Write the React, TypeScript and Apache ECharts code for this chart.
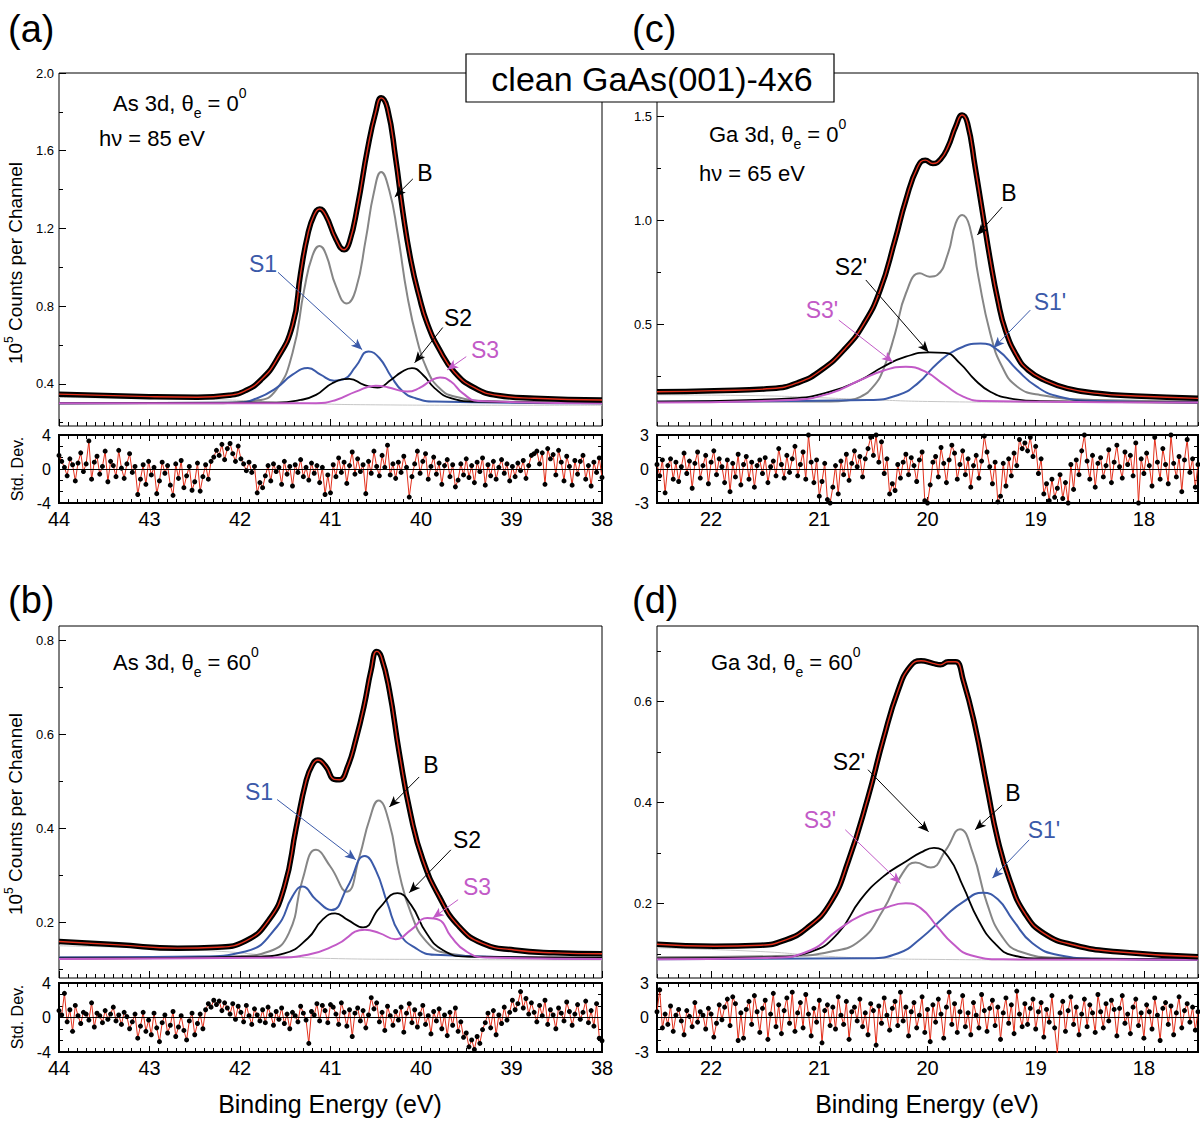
import React, { useEffect, useRef } from "react";
import * as echarts from "echarts";

const FONT = '"Liberation Sans", Arial, Helvetica, sans-serif';

// colours
const C_DATA = "#000000";
const C_FIT = "#e3301c";
const C_B = "#868686";
const C_S1 = "#3b5aa9";
const C_S2 = "#000000";
const C_S3 = "#c25ac7";
const C_BG = "#c6c6c6";

// ---------- tick labels ----------
const asXTicks = [38, 39, 40, 41, 42, 43, 44];
const gaXTicks = [18, 19, 20, 21, 22];
const aYTicks = [0.4, 0.8, 1.2, 1.6, 2.0];
const aYMinor = [0.2, 0.6, 1.0, 1.4, 1.8];
const bYTicks = [0.2, 0.4, 0.6, 0.8];
const bYMinor = [0.1, 0.3, 0.5, 0.7];
const cYTicks = [0.5, 1.0, 1.5];
const cYMinor = [0.25, 0.75, 1.25];
const dYTicks = [0.2, 0.4, 0.6];
const dYMinor = [0.1, 0.3, 0.5, 0.7];
const asResTicks = [-4, 0, 4];
const asResMinor = [-2.67, -1.33, 1.33, 2.67];
const gaResTicks = [-3, 0, 3];
const gaResMinor = [-2, -1, 1, 2];

// ---------- Panel (a): As 3d, theta 0, hv 85 eV ----------
const aTotalE = [44.0, 43.0, 42.47, 42.12, 41.94, 41.77, 41.60, 41.42, 41.33, 41.25, 41.18, 41.12, 41.05, 40.94, 40.85, 40.79, 40.70, 40.59, 40.50, 40.44, 40.37, 40.28, 40.20, 40.11, 40.02, 39.93, 39.80, 39.63, 39.41, 39.15, 38.75, 38.0];
const aTotalV = [0.347, 0.334, 0.331, 0.341, 0.365, 0.42, 0.52, 0.70, 0.97, 1.17, 1.27, 1.30, 1.265, 1.145, 1.09, 1.13, 1.317, 1.61, 1.80, 1.872, 1.817, 1.56, 1.283, 1.03, 0.85, 0.71, 0.58, 0.46, 0.38, 0.34, 0.326, 0.317];
const aBE = [44.0, 42.47, 41.81, 41.60, 41.42, 41.29, 41.20, 41.12, 41.05, 40.94, 40.82, 40.72, 40.61, 40.52, 40.44, 40.35, 40.26, 40.15, 40.04, 39.93, 39.80, 39.63, 39.19, 38.0];
const aBV = [0.30, 0.30, 0.315, 0.369, 0.559, 0.886, 1.059, 1.11, 1.067, 0.903, 0.814, 0.886, 1.145, 1.386, 1.49, 1.395, 1.179, 0.85, 0.62, 0.47, 0.38, 0.335, 0.31, 0.30];
const aS1E = [44.0, 42.03, 41.81, 41.60, 41.42, 41.25, 41.11, 40.96, 40.85, 40.72, 40.58, 40.46, 40.33, 40.20, 40.06, 39.85, 38.0];
const aS1V = [0.30, 0.303, 0.326, 0.378, 0.447, 0.481, 0.447, 0.416, 0.424, 0.49, 0.567, 0.533, 0.438, 0.36, 0.326, 0.309, 0.30];
const aS2E = [44.0, 41.60, 41.33, 41.16, 40.98, 40.79, 40.63, 40.48, 40.33, 40.22, 40.10, 39.98, 39.85, 39.67, 39.41, 38.0];
const aS2V = [0.30, 0.303, 0.317, 0.343, 0.403, 0.426, 0.395, 0.381, 0.421, 0.459, 0.481, 0.447, 0.378, 0.326, 0.309, 0.303];
const aS3E = [44.0, 41.16, 40.94, 40.72, 40.50, 40.37, 40.15, 40.02, 39.89, 39.79, 39.67, 39.54, 39.37, 38.0];
const aS3V = [0.30, 0.30, 0.317, 0.36, 0.39, 0.383, 0.36, 0.378, 0.416, 0.433, 0.412, 0.352, 0.312, 0.30];
const aBgE = [44.0, 43.0, 42.2, 41.8, 41.2, 40.5, 39.5, 38.0];
const aBgV = [0.33, 0.325, 0.318, 0.31, 0.298, 0.292, 0.29, 0.29];
const aRes = [
  1.6, 0.9, 0.2, -0.8, 1.2, 0.5, -1.4, 0.7, 1.9, -0.3, 0.6, 3.3, -1.2, 0.8, 1.5, -0.6, 0.3, 2.1, -1.5, 0.9, 0.4, -0.9, 2.2, 0.1, -1.1,
  0.6, 1.8, -0.4, 0.3, -3.0, -1.2, 0.5, -1.8, 0.9, -0.7, 0.2, -2.9, -1.4, 0.8, -0.5, 0.4, -1.9, -3.1, 0.6, -1.1, 1.0, -2.2, -0.8, 0.3, -2.5,
  -1.5, 0.7, -2.6, -0.9, 0.5, -1.2, 0.9, 1.4, 2.2, 1.6, 2.9, 1.1, 2.4, 3.0, 1.8, 0.9, 2.7, 1.2, 0.6, -0.2, 0.8, -0.4, 0.3, -2.8, -1.6,
  -2.2, -0.8, 0.4, -1.4, 0.6, -0.3, 0.2, -1.8, 0.9, -0.6, 0.3, -2.0, 0.5, -0.4, 1.1, -0.9, 0.2, -1.3, 0.7, -0.5, 0.4, -1.6, 0.2, -3.0, -0.7,
  -2.8, 0.5, -0.9, 1.3, -0.4, 0.8, -1.7, 0.4, 2.0, -0.6, 1.2, -0.3, 0.5, -2.9, 0.9, -0.5, 2.1, 0.3, -0.8, 1.6, 0.2, 2.8, -0.7, 0.6, -1.1,
  0.8, -0.4, 1.5, 0.2, -3.3, -0.9, 0.6, 2.1, -0.5, 0.9, 1.8, -1.2, 0.3, 1.4, -0.6, 0.7, -1.8, 0.4, 1.1, -0.9, 0.5, -2.1, -1.3, 0.6, -0.7,
  1.2, -1.0, 0.4, -1.6, 0.8, -0.3, 1.3, -1.9, 0.5, -0.8, 0.9, -1.2, 0.2, 1.1, -0.5, 0.6, -1.4, 0.3, -0.9, 0.7, -0.2, 1.0, -1.1, 0.4, 1.6,
  1.8, 2.1, 0.6, 1.9, -1.8, 2.4, 1.2, 1.7, -0.7, 2.2, 0.8, -1.4, 1.5, 0.3, -1.9, 1.0, -0.6, 0.9, 1.6, -1.2, 0.4, -2.0, 0.8, -0.4, 1.3,
  -1.0,
];

// ---------- Panel (b): As 3d, theta 60 ----------
const bTotalE = [44.0, 43.34, 42.69, 42.25, 41.94, 41.68, 41.51, 41.38, 41.27, 41.20, 41.14, 41.05, 40.96, 40.90, 40.81, 40.72, 40.63, 40.55, 40.49, 40.44, 40.35, 40.24, 40.11, 39.98, 39.80, 39.58, 39.32, 38.97, 38.53, 38.0];
const bTotalV = [0.159, 0.152, 0.145, 0.147, 0.16, 0.205, 0.275, 0.40, 0.50, 0.535, 0.545, 0.531, 0.504, 0.503, 0.531, 0.588, 0.659, 0.737, 0.776, 0.765, 0.694, 0.56, 0.425, 0.333, 0.255, 0.191, 0.155, 0.141, 0.135, 0.133];
const bBE = [44.0, 42.69, 42.03, 41.68, 41.46, 41.31, 41.16, 41.00, 40.82, 40.68, 40.57, 40.47, 40.35, 40.24, 40.11, 39.94, 39.71, 39.19, 38.0];
const bBV = [0.125, 0.126, 0.128, 0.138, 0.177, 0.29, 0.354, 0.318, 0.265, 0.34, 0.418, 0.459, 0.411, 0.304, 0.219, 0.159, 0.134, 0.126, 0.123];
const bS1E = [44.0, 42.47, 41.94, 41.59, 41.42, 41.31, 41.16, 40.99, 40.81, 40.62, 40.50, 40.37, 40.24, 40.06, 39.85, 38.0];
const bS1V = [0.125, 0.127, 0.138, 0.191, 0.255, 0.276, 0.248, 0.226, 0.276, 0.341, 0.311, 0.24, 0.177, 0.145, 0.131, 0.123];
const bS2E = [44.0, 41.81, 41.51, 41.25, 41.09, 40.95, 40.81, 40.64, 40.46, 40.26, 40.11, 39.94, 39.76, 39.50, 38.0];
const bS2V = [0.123, 0.127, 0.134, 0.166, 0.205, 0.219, 0.205, 0.189, 0.23, 0.262, 0.237, 0.177, 0.141, 0.127, 0.125];
const bS3E = [44.0, 41.59, 41.25, 40.94, 40.62, 40.46, 40.28, 40.11, 39.93, 39.80, 39.67, 39.50, 39.28, 38.0];
const bS3V = [0.122, 0.125, 0.131, 0.152, 0.184, 0.177, 0.164, 0.184, 0.209, 0.205, 0.17, 0.138, 0.125, 0.122];
const bBgE = [44.0, 43.0, 42.2, 41.7, 41.0, 40.0, 38.0];
const bBgV = [0.15, 0.145, 0.138, 0.13, 0.123, 0.121, 0.12];
const bRes = [
  0.8, 0.3, 2.8, -0.5, 0.9, -1.6, 1.4, 0.2, -0.7, 0.6, 0.4, -0.3, 1.7, -1.1, 0.5, 0.2, -0.6, 0.8, -0.2, 0.4, 1.2, -0.4, 0.3, -0.8, 0.6,
  0.1, -1.3, -0.5, 0.4, -2.4, -1.0, 0.6, -1.6, -0.3, -2.0, 0.5, -1.2, -2.8, -0.6, 0.3, -1.8, -0.9, 0.7, -2.2, -1.1, 0.2, -1.5, -2.6, -0.4, 0.5,
  -2.0, -0.7, 0.4, -1.3, 0.9, 1.6, 1.2, 2.0, 1.5, 1.9, 0.8, 1.7, 1.1, 0.4, 1.6, -0.2, 1.3, 0.6, -0.5, 1.4, 0.2, -0.8, 1.0, 0.3, -0.4,
  0.9, -0.6, 1.2, 0.3, -0.9, 0.7, -0.2, 1.1, -0.7, 0.4, -1.3, 0.6, 0.2, -0.5, 1.3, 0.5, -0.3, -3.0, 0.7, 0.3, 1.6, -0.4, 1.4, 0.8, -0.6,
  1.5, 1.2, 0.4, -0.8, 1.7, 0.6, -1.0, 0.9, -2.2, 0.5, 1.1, -0.4, 0.8, -1.2, 0.3, 2.3, 1.0, 1.7, -0.5, 0.6, -1.5, 1.3, 0.2, -0.9, 0.7,
  -0.3, 1.2, -1.7, 0.5, 1.6, -0.6, 0.9, -1.1, 0.4, 1.4, -0.8, 0.2, -1.9, 0.7, -0.4, 1.0, -1.3, 0.3, -2.1, 0.6, -0.9, 1.1, -1.6, -0.5, -2.3,
  -1.8, -3.4, -2.6, -3.7, -2.2, -3.0, -1.4, -0.6, 0.5, -1.2, 0.8, -2.0, 0.3, -0.7, 1.2, -0.3, 0.6, 2.0, 0.9, 1.6, 3.0, 1.1, 2.2, 0.4, 1.7,
  0.6, -0.5, 1.4, 0.2, 2.0, -0.8, 0.9, 0.3, -1.3, 1.1, 0.5, -0.4, 1.8, 0.7, -0.9, 0.4, 1.5, -0.2, 0.6, 1.9, -0.6, 0.8, -1.0, 1.6, -2.4,
  -2.7,
];

// ---------- Panel (c): Ga 3d, theta 0, hv 65 eV ----------
const cTotalE = [22.5, 21.97, 21.44, 21.19, 20.98, 20.76, 20.59, 20.44, 20.30, 20.20, 20.09, 20.02, 19.95, 19.88, 19.81, 19.74, 19.68, 19.63, 19.56, 19.49, 19.42, 19.35, 19.28, 19.17, 19.07, 18.92, 18.71, 18.43, 18.08, 17.5];
const cTotalV = [0.175, 0.18, 0.19, 0.22, 0.279, 0.383, 0.50, 0.66, 0.904, 1.096, 1.256, 1.288, 1.272, 1.292, 1.353, 1.449, 1.505, 1.465, 1.256, 1.032, 0.808, 0.615, 0.471, 0.343, 0.279, 0.231, 0.191, 0.167, 0.154, 0.143];
const cBE = [22.5, 20.90, 20.75, 20.62, 20.50, 20.41, 20.30, 20.20, 20.07, 19.98, 19.91, 19.81, 19.74, 19.68, 19.61, 19.53, 19.42, 19.31, 19.17, 18.96, 18.43, 17.5];
const cBV = [0.127, 0.128, 0.133, 0.15, 0.2, 0.279, 0.455, 0.647, 0.744, 0.728, 0.736, 0.84, 0.984, 1.024, 0.968, 0.728, 0.455, 0.295, 0.199, 0.159, 0.135, 0.128];
const cS1E = [22.5, 20.55, 20.27, 20.09, 19.91, 19.74, 19.51, 19.35, 19.17, 18.99, 18.78, 18.43, 17.5];
const cS1V = [0.127, 0.135, 0.159, 0.215, 0.311, 0.375, 0.407, 0.375, 0.279, 0.199, 0.151, 0.13, 0.123];
const cS2E = [22.5, 21.26, 20.90, 20.62, 20.41, 20.20, 19.98, 19.84, 19.70, 19.56, 19.42, 19.24, 18.96, 17.5];
const cS2V = [0.127, 0.143, 0.175, 0.231, 0.295, 0.343, 0.364, 0.362, 0.311, 0.231, 0.175, 0.143, 0.13, 0.123];
const cS3E = [22.5, 21.26, 20.90, 20.62, 20.41, 20.20, 20.02, 19.84, 19.67, 19.49, 17.5];
const cS3V = [0.123, 0.135, 0.167, 0.231, 0.276, 0.295, 0.271, 0.207, 0.151, 0.13, 0.123];
const cBgE = [22.5, 21.5, 21.0, 20.5, 20.0, 19.0, 17.5];
const cBgV = [0.16, 0.155, 0.146, 0.136, 0.128, 0.124, 0.122];
const cRes = [
  0.4, -0.6, 0.8, -2.1, 0.3, 0.9, -0.9, 0.6, -1.1, 0.2, 1.4, -0.4, 0.7, -1.7, 0.5, 1.5, -0.8, 0.3, 1.2, -1.3, 0.6, 1.6, -0.5, 0.9, 0.2,
  -1.2, 0.8, -2.0, 0.5, -0.7, 1.3, -1.4, 0.4, 1.1, -0.9, 0.6, -1.6, 0.3, 0.8, -0.4, 1.0, -1.2, 0.2, 0.7, -0.6, 1.8, 0.4, -0.8, 1.2, -0.3,
  0.9, 2.0, -0.6, 0.4, 1.5, -0.9, 3.0, 0.6, -1.2, 0.8, -2.4, -1.1, 0.5, -2.7, -3.0, -1.6, 0.3, -2.2, 0.7, -0.5, 1.3, -1.0, 0.5, 1.6, 0.2,
  1.1, -0.7, 0.9, 1.8, 2.8, 1.2, 3.0, 0.6, 2.4, -0.4, 0.9, -2.2, -1.3, -1.9, 0.4, -0.8, 0.6, 1.3, -0.5, 1.0, 0.3, -1.1, 0.8, 1.5, -2.8,
  -3.0, -1.4, 0.6, 1.1, -0.7, 1.9, 0.5, -1.2, 0.8, 2.1, 1.4, -0.9, 0.4, 1.6, -0.5, 0.9, -1.6, 0.3, 1.2, -0.8, 0.7, 2.9, 1.5, 0.2, -1.3,
  0.6, -2.9, -2.4, 0.5, -1.5, 0.9, -0.6, 1.4, 0.3, 2.6, 1.8, 2.3, 1.6, 2.8, 1.1, 2.0, -0.4, 0.9, -2.2, -1.3, -2.8, -0.9, -2.5, -1.7, -0.5,
  -2.6, -1.2, -3.0, 0.4, -1.8, 0.8, -0.5, 1.6, 3.0, 0.7, -0.9, 1.2, -1.6, 0.5, 1.0, -0.7, 0.3, 1.7, -1.2, 0.6, 2.1, 0.2, -0.8, 1.5, 0.4,
  1.2, -0.6, 2.3, -3.0, 0.9, -0.4, 1.4, 0.3, -1.5, 2.8, 0.6, -0.9, 1.8, 0.4, -1.3, 3.0, 0.5, -0.7, 1.1, -2.0, 0.8, 2.6, -0.3, 0.9, -1.6,
  0.4,
];

// ---------- Panel (d): Ga 3d, theta 60 ----------
const dTotalE = [22.5, 21.97, 21.54, 21.33, 21.12, 20.90, 20.73, 20.55, 20.41, 20.27, 20.16, 20.06, 19.95, 19.88, 19.81, 19.74, 19.67, 19.56, 19.45, 19.35, 19.24, 19.10, 18.92, 18.64, 18.25, 17.5];
const dTotalV = [0.119, 0.115, 0.117, 0.126, 0.15, 0.2, 0.285, 0.41, 0.524, 0.623, 0.67, 0.681, 0.676, 0.673, 0.679, 0.679, 0.643, 0.551, 0.431, 0.326, 0.246, 0.18, 0.14, 0.117, 0.104, 0.094];
const dBE = [22.5, 21.26, 20.90, 20.62, 20.41, 20.23, 20.11, 19.97, 19.83, 19.70, 19.58, 19.45, 19.31, 19.14, 18.78, 17.5];
const dBV = [0.093, 0.096, 0.104, 0.127, 0.187, 0.26, 0.281, 0.271, 0.306, 0.347, 0.299, 0.2, 0.134, 0.104, 0.092, 0.089];
const dS1E = [22.5, 20.55, 20.27, 20.06, 19.84, 19.67, 19.49, 19.35, 19.21, 19.03, 18.78, 18.43, 17.5];
const dS1V = [0.089, 0.091, 0.101, 0.131, 0.174, 0.203, 0.221, 0.208, 0.167, 0.121, 0.097, 0.09, 0.088];
const dS2E = [22.5, 21.44, 21.08, 20.83, 20.62, 20.41, 20.20, 20.06, 19.94, 19.81, 19.67, 19.53, 19.38, 19.21, 18.96, 17.5];
const dS2V = [0.091, 0.093, 0.104, 0.14, 0.207, 0.253, 0.283, 0.301, 0.31, 0.293, 0.233, 0.167, 0.121, 0.097, 0.091, 0.089];
const dS3E = [22.5, 21.44, 21.08, 20.83, 20.62, 20.41, 20.20, 20.06, 19.91, 19.77, 19.60, 19.31, 17.5];
const dS3V = [0.089, 0.092, 0.107, 0.147, 0.175, 0.19, 0.2, 0.19, 0.154, 0.121, 0.097, 0.089, 0.088];
const dBgE = [22.5, 21.5, 21.0, 20.5, 20.0, 19.0, 17.5];
const dBgV = [0.112, 0.104, 0.096, 0.091, 0.089, 0.088, 0.088];
const dRes = [
  0.5, 2.4, -0.9, 0.3, -0.6, 1.0, -1.2, 0.2, 0.7, -0.3, -1.5, 0.6, 0.1, -0.8, 1.3, -0.4, 0.5, 0.2, -1.0, 0.8, 0.3, -1.7, -0.5, 1.1, -0.2,
  0.9, 1.6, -0.7, 1.8, 1.2, -2.0, 0.4, -1.8, 0.7, 1.4, -0.6, 1.9, 0.5, -1.3, 0.8, 1.5, -1.9, 0.3, 2.1, -0.8, 1.1, -1.4, 0.6, 1.7, -0.5,
  2.2, -1.2, 0.4, 1.3, -0.9, 2.0, 0.3, -1.6, 0.8, -0.4, 1.5, -2.2, 0.6, 1.1, -0.7, 0.9, -1.0, 1.8, 0.2, -0.6, 1.4, -1.9, 0.5, 0.9, -0.3,
  1.6, -0.8, 0.4, -1.5, 1.2, 0.6, -2.4, 1.0, -0.5, 1.7, 0.2, -1.1, 0.8, 1.4, -0.7, 2.2, -0.3, 0.9, -1.6, 0.5, 1.3, -0.9, 0.2, 1.8, -1.3,
  0.7, -2.1, 1.1, -0.4, 1.6, 0.3, -1.8, 0.9, 2.2, -0.6, 1.2, -1.3, 0.5, 1.9, -0.8, 0.4, -1.5, 1.3, 0.2, -0.9, 2.0, 0.6, -1.2, 0.8, 1.5,
  -0.7, 0.9, -1.9, 0.4, 1.7, -0.5, 1.1, -1.4, 2.3, 0.3, -0.8, 1.2, -0.6, 0.8, 1.6, -1.0, 0.5, 1.3, -1.7, 0.7, -0.4, 1.9, -0.9, -3.1, 0.4,
  1.4, -1.2, 0.6, 1.8, -0.6, 0.9, -1.5, 0.3, 1.6, -0.8, 1.1, 0.4, -1.3, 2.0, 0.5, -0.9, 1.2, -0.3, 1.5, 0.7, -1.6, 0.8, 1.9, -0.5, 0.3,
  -1.4, 0.9, 1.6, -0.7, 0.4, -1.8, 1.1, 0.5, -1.0, 1.7, 0.2, -2.0, 0.8, 1.3, -0.6, 1.0, -1.5, 0.4, 1.8, -0.9, 0.6, 1.2, -0.4, 0.9, -1.1,
  0.5,
];

// residual sampling: energy of first channel and channel step
const asResStart = 44.0;
const asResStep = -0.03;
const gaResStart = 22.5;
const gaResStep = -0.025;

// ---------- annotation arrows (data coordinates) ----------
const aArrows = [
  { from: [40.09, 1.455], to: [40.29, 1.362], color: "#000" },
  { from: [41.58, 0.974], to: [40.65, 0.576], color: C_S1 },
  { from: [39.76, 0.69], to: [40.07, 0.509], color: "#000" },
  { from: [39.5, 0.54], to: [39.71, 0.472], color: C_S3 },
];
const bArrows = [
  { from: [40.02, 0.509], to: [40.35, 0.445], color: "#000" },
  { from: [41.59, 0.461], to: [40.72, 0.333], color: C_S1 },
  { from: [39.67, 0.354], to: [40.13, 0.263], color: "#000" },
  { from: [39.59, 0.248], to: [39.87, 0.209], color: C_S3 },
];
const cArrows = [
  { from: [19.31, 1.0625], to: [19.54, 0.928], color: "#000" },
  { from: [20.57, 0.712], to: [19.99, 0.365], color: "#000" },
  { from: [20.82, 0.519], to: [20.32, 0.317], color: C_S3 },
  { from: [19.05, 0.567], to: [19.39, 0.385], color: C_S1 },
];
const dArrows = [
  { from: [20.55, 0.465], to: [19.99, 0.342], color: "#000" },
  { from: [19.31, 0.395], to: [19.56, 0.346], color: "#000" },
  { from: [20.76, 0.346], to: [20.25, 0.24], color: C_S3 },
  { from: [19.06, 0.326], to: [19.4, 0.25], color: C_S1 },
];

const PANELS: any[] = [
  {
    main: { left: 59, top: 73, width: 543, height: 353 },
    res: { left: 59, top: 435, width: 543, height: 68 },
    xMin: 38, xMax: 44, xTicks: asXTicks,
    yMin: 0.183, yMax: 2.0, yTicks: aYTicks, yMinor: aYMinor,
    resLim: 4, resTicks: asResTicks, resMinor: asResMinor,
    curves: { bg: [aBgE, aBgV], B: [aBE, aBV], S1: [aS1E, aS1V], S2: [aS2E, aS2V], S3: [aS3E, aS3V], total: [aTotalE, aTotalV] },
    resVals: aRes, resStart: asResStart, resStep: asResStep, arrows: aArrows,
  },
  {
    main: { left: 657, top: 73, width: 541, height: 353 },
    res: { left: 657, top: 435, width: 541, height: 68 },
    xMin: 17.5, xMax: 22.5, xTicks: gaXTicks,
    yMin: 0.01, yMax: 1.707, yTicks: cYTicks, yMinor: cYMinor,
    resLim: 3, resTicks: gaResTicks, resMinor: gaResMinor,
    curves: { bg: [cBgE, cBgV], B: [cBE, cBV], S1: [cS1E, cS1V], S2: [cS2E, cS2V], S3: [cS3E, cS3V], total: [cTotalE, cTotalV] },
    resVals: cRes, resStart: gaResStart, resStep: gaResStep, arrows: cArrows,
  },
  {
    main: { left: 59, top: 626, width: 543, height: 352 },
    res: { left: 59, top: 983, width: 543, height: 69 },
    xMin: 38, xMax: 44, xTicks: asXTicks,
    yMin: 0.0815, yMax: 0.83, yTicks: bYTicks, yMinor: bYMinor,
    resLim: 4, resTicks: asResTicks, resMinor: asResMinor,
    curves: { bg: [bBgE, bBgV], B: [bBE, bBV], S1: [bS1E, bS1V], S2: [bS2E, bS2V], S3: [bS3E, bS3V], total: [bTotalE, bTotalV] },
    resVals: bRes, resStart: asResStart, resStep: asResStep, arrows: bArrows,
  },
  {
    main: { left: 657, top: 626, width: 541, height: 352 },
    res: { left: 657, top: 983, width: 541, height: 69 },
    xMin: 17.5, xMax: 22.5, xTicks: gaXTicks,
    yMin: 0.052, yMax: 0.75, yTicks: dYTicks, yMinor: dYMinor,
    resLim: 3, resTicks: gaResTicks, resMinor: gaResMinor,
    curves: { bg: [dBgE, dBgV], B: [dBE, dBV], S1: [dS1E, dS1V], S2: [dS2E, dS2V], S3: [dS3E, dS3V], total: [dTotalE, dTotalV] },
    resVals: dRes, resStart: gaResStart, resStep: gaResStep, arrows: dArrows,
  },
];

// tick positions helper (axis ticks only)
function tickSteps(a: number, b: number, s: number) {
  const out: number[] = [];
  const n = Math.round((b - a) / s);
  for (let i = 0; i <= n; i++) out.push(+(a + i * s).toFixed(4));
  return out;
}

function xAx(grid: number, p: any, position: string, ticks: number[], len: number, labels: boolean) {
  return {
    type: "value", gridIndex: grid, min: p.xMin, max: p.xMax, inverse: true, position,
    axisLine: { show: false, onZero: false },
    axisTick: { show: true, inside: true, length: len, customValues: ticks, lineStyle: { color: "#000", width: 1 } },
    axisLabel: labels
      ? { show: true, customValues: p.xTicks, fontSize: 20, color: "#000", margin: 6, fontFamily: FONT, formatter: (v: number) => String(v) }
      : { show: false },
    splitLine: { show: false },
    minorTick: { show: false },
  };
}

function yAx(grid: number, min: number, max: number, position: string, ticks: number[], len: number, label: any) {
  return {
    type: "value", gridIndex: grid, min, max, position,
    axisLine: { show: false, onZero: false },
    axisTick: { show: true, inside: true, length: len, customValues: ticks, lineStyle: { color: "#000", width: 1 } },
    axisLabel: label ? { show: true, color: "#000", fontFamily: FONT, ...label } : { show: false },
    splitLine: { show: false },
    minorTick: { show: false },
  };
}

function pairs(E: number[], V: number[]) {
  return E.map((e, i) => [e, V[i]]);
}

function lineSeries(name: string, cv: number[][], color: string, width: number, xi: number, yi: number, extra: any = {}) {
  return {
    type: "line", name, xAxisIndex: xi, yAxisIndex: yi,
    data: pairs(cv[0], cv[1]),
    showSymbol: false, symbol: "none", smooth: 0.5,
    lineStyle: { color, width }, itemStyle: { color },
    silent: true, animation: false, clip: true,
    emphasis: { disabled: true },
    ...extra,
  };
}

function richHead(x: number, y: number, el: string, angle: string) {
  const base = { fontFamily: FONT, fill: "#000" };
  return {
    type: "text", x, y, z: 50,
    style: {
      text: `{n|${el}, θ}{s|e}{n| = ${angle}}{p|0}`,
      rich: {
        n: { ...base, fontSize: 22, lineHeight: 34 },
        s: { ...base, fontSize: 14, lineHeight: 14, verticalAlign: "bottom" },
        p: { ...base, fontSize: 14, lineHeight: 14, verticalAlign: "top" },
      },
      align: "left", verticalAlign: "middle",
    },
  };
}

function plainText(x: number, y: number, text: string, size: number, color = "#000", align = "left", rotation = 0) {
  return {
    type: "text", x, y, z: 50, rotation,
    style: { text, fontSize: size, fontFamily: FONT, fill: color, align, verticalAlign: "middle" },
  };
}

function yNameText(x: number, y: number) {
  const base = { fontFamily: FONT, fill: "#000" };
  return {
    type: "text", x, y, z: 50, rotation: Math.PI / 2,
    style: {
      text: "{n|10}{p|5}{n| Counts per Channel}",
      rich: {
        n: { ...base, fontSize: 19, lineHeight: 24 },
        p: { ...base, fontSize: 12, lineHeight: 12, verticalAlign: "top" },
      },
      align: "center", verticalAlign: "middle",
    },
  };
}

function buildOption() {
  const grid: any[] = [];
  const xAxis: any[] = [];
  const yAxis: any[] = [];
  const series: any[] = [];

  PANELS.forEach((p) => {
    const gm = grid.length;
    grid.push({ ...p.main, show: true, borderColor: "#000", borderWidth: 1, backgroundColor: "transparent", containLabel: false, outerBoundsMode: "none" });
    const gr = grid.length;
    grid.push({ ...p.res, show: true, borderColor: "#000", borderWidth: 2, backgroundColor: "transparent", containLabel: false, outerBoundsMode: "none" });

    const xMinor = tickSteps(p.xMin, p.xMax, 0.1);

    const xm = xAxis.length;
    xAxis.push(xAx(gm, p, "bottom", p.xTicks, 7, false));
    xAxis.push(xAx(gm, p, "bottom", xMinor, 4, false));
    const xr = xAxis.length;
    xAxis.push(xAx(gr, p, "bottom", p.xTicks, 6, true));
    xAxis.push(xAx(gr, p, "bottom", xMinor, 4, false));
    xAxis.push(xAx(gr, p, "top", p.xTicks, 6, false));
    xAxis.push(xAx(gr, p, "top", xMinor, 4, false));

    const ym = yAxis.length;
    yAxis.push(yAx(gm, p.yMin, p.yMax, "left", p.yTicks, 7, { customValues: p.yTicks, fontSize: 13, margin: 5, formatter: (v: number) => v.toFixed(1) }));
    yAxis.push(yAx(gm, p.yMin, p.yMax, "left", p.yMinor, 4, null));
    const yr = yAxis.length;
    yAxis.push(yAx(gr, -p.resLim, p.resLim, "left", p.resTicks, 6, { customValues: p.resTicks, fontSize: 16, margin: 8, formatter: (v: number) => String(v) }));
    yAxis.push(yAx(gr, -p.resLim, p.resLim, "left", p.resMinor, 4, null));
    yAxis.push(yAx(gr, -p.resLim, p.resLim, "right", p.resTicks, 6, null));
    yAxis.push(yAx(gr, -p.resLim, p.resLim, "right", p.resMinor, 4, null));

    const c = p.curves;
    series.push(lineSeries("Background", c.bg, C_BG, 1, xm, ym));
    series.push(lineSeries("B", c.B, C_B, 2, xm, ym));
    series.push(lineSeries("S1", c.S1, C_S1, 2, xm, ym));
    series.push(lineSeries("S2", c.S2, C_S2, 1.8, xm, ym));
    series.push(lineSeries("S3", c.S3, C_S3, 2, xm, ym));
    series.push(lineSeries("Data", c.total, C_DATA, 5.5, xm, ym));
    series.push(
      lineSeries("Fit", c.total, C_FIT, 1.4, xm, ym, {
        markLine: {
          silent: true, animation: false, symbol: ["none", "arrow"], symbolSize: [7, 11],
          label: { show: false }, emphasis: { disabled: true },
          data: p.arrows.map((a: any) => [
            { coord: a.from, lineStyle: { color: a.color, width: 1, type: "solid" }, itemStyle: { color: a.color } },
            { coord: a.to },
          ]),
        },
      })
    );

    series.push({
      type: "line", name: "Residual", xAxisIndex: xr, yAxisIndex: yr,
      data: p.resVals.map((v: number, i: number) => [p.resStart + i * p.resStep, v]),
      symbol: "circle", symbolSize: 5, showSymbol: true, showAllSymbol: true,
      itemStyle: { color: "#000" }, lineStyle: { color: C_FIT, width: 1 },
      silent: true, animation: false, emphasis: { disabled: true },
      markLine: {
        silent: true, animation: false, symbol: ["none", "none"], label: { show: false },
        lineStyle: { color: "#000", width: 1, type: "solid" }, data: [{ yAxis: 0 }],
      },
    });
  });

  const graphic: any[] = [
    // panel letters
    plainText(8, 29, "(a)", 38),
    plainText(632, 29, "(c)", 38),
    plainText(8, 600, "(b)", 38),
    plainText(632, 600, "(d)", 38),
    // title box
    { type: "rect", z: 60, shape: { x: 466, y: 54, width: 368, height: 48 }, style: { fill: "#fff", stroke: "#000", lineWidth: 1.2 } },
    { type: "text", z: 61, x: 652, y: 79, style: { text: "clean GaAs(001)-4x6", fontSize: 34, fontFamily: FONT, fill: "#000", align: "center", verticalAlign: "middle" } },
    // headings
    richHead(113, 103, "As 3d", "0"),
    plainText(99, 138, "hν = 85 eV", 22),
    richHead(709, 134, "Ga 3d", "0"),
    plainText(699, 173, "hν = 65 eV", 22),
    richHead(113, 662, "As 3d", "60"),
    richHead(711, 662, "Ga 3d", "60"),
    // component labels (a)
    plainText(425, 173, "B", 23, "#000", "center"),
    plainText(263, 264, "S1", 23, C_S1, "center"),
    plainText(458, 318, "S2", 23, "#000", "center"),
    plainText(485, 350, "S3", 23, C_S3, "center"),
    // (c)
    plainText(1009, 193, "B", 23, "#000", "center"),
    plainText(851, 267, "S2'", 23, "#000", "center"),
    plainText(822, 310, "S3'", 23, C_S3, "center"),
    plainText(1050, 302, "S1'", 23, C_S1, "center"),
    // (b)
    plainText(431, 765, "B", 23, "#000", "center"),
    plainText(259, 792, "S1", 23, C_S1, "center"),
    plainText(467, 840, "S2", 23, "#000", "center"),
    plainText(477, 887, "S3", 23, C_S3, "center"),
    // (d)
    plainText(849, 762, "S2'", 23, "#000", "center"),
    plainText(1013, 793, "B", 23, "#000", "center"),
    plainText(820, 820, "S3'", 23, C_S3, "center"),
    plainText(1044, 830, "S1'", 23, C_S1, "center"),
    // axis names
    yNameText(15, 263),
    yNameText(15, 814),
    plainText(17, 469, "Std. Dev.", 16, "#000", "center", Math.PI / 2),
    plainText(17, 1017, "Std. Dev.", 16, "#000", "center", Math.PI / 2),
    plainText(330, 1104, "Binding Energy (eV)", 25, "#000", "center"),
    plainText(927, 1104, "Binding Energy (eV)", 25, "#000", "center"),
  ];

  return {
    animation: false,
    backgroundColor: "#fff",
    textStyle: { fontFamily: FONT },
    grid, xAxis, yAxis, series, graphic,
  };
}

export default function App() {
  const ref = useRef<HTMLDivElement>(null);
  useEffect(() => {
    if (!ref.current) return;
    const chart = echarts.init(ref.current, null, { renderer: "svg" });
    chart.setOption(buildOption() as any);
    return () => chart.dispose();
  }, []);
  return (
    <div
      ref={ref}
      style={{ position: "absolute", left: 0, top: 0, width: 1200, height: 1122, background: "#fff" }}
    />
  );
}
